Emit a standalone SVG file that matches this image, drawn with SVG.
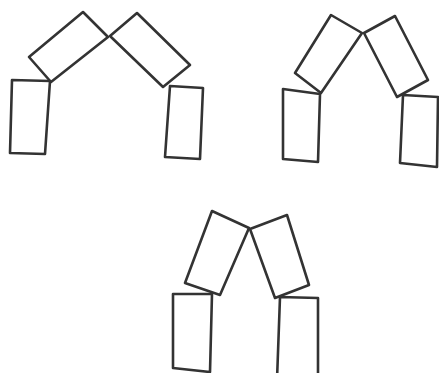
<svg xmlns="http://www.w3.org/2000/svg" width="439" height="373" viewBox="0 0 439 373">
<style>
.b{fill:none;stroke:#333;stroke-width:2.6;stroke-linejoin:round;stroke-linecap:round}
</style>
<rect width="439" height="373" fill="#fff"/>
<g id="figure1">
<polygon class="b" points="12,80 50,81 45,154 10,153"/>
<polygon class="b" points="29,57 83,12 108,37 51,82"/>
<polygon class="b" points="110,36 137,13 190,65 163,87"/>
<polygon class="b" points="170,86 203,88 200,159 165,157"/>
</g>
<g id="figure2">
<polygon class="b" points="283,89 320,94 318,162 283,159"/>
<polygon class="b" points="295,73 331,15 362,33 321,93"/>
<polygon class="b" points="364,33 395,16 428,80 397,97"/>
<polygon class="b" points="403,95 438,97 437,167 400,163"/>
</g>
<g id="figure3">
<polygon class="b" points="185,283 212,211 249,228 220,295"/>
<polygon class="b" points="173,294 212,294 210,372 173,368"/>
<polygon class="b" points="250,229 287,215 309,285 275,298"/>
<polyline class="b" points="277,380 280,297 318,298 318,380"/>
</g>
</svg>
